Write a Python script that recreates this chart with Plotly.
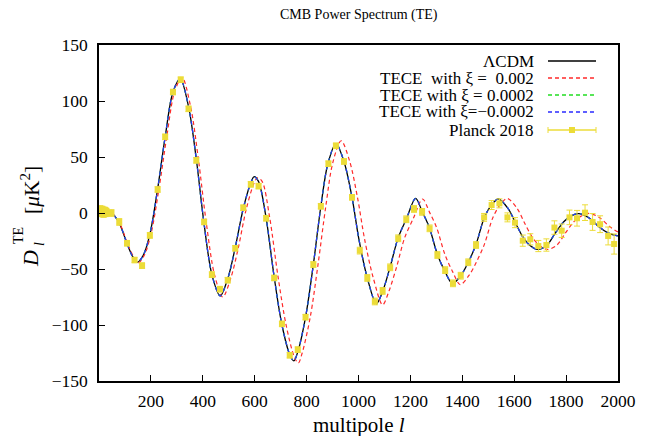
import plotly.graph_objects as go

# ---------------- data ----------------
ell_lcdm = [2, 10, 20, 30, 48, 78, 109, 130, 148, 170, 196, 225, 255, 285, 313, 345, 375, 404,
            435, 467, 497, 524, 556, 585, 598, 615, 643, 675, 705, 736, 751, 766, 796, 826,
            855, 882, 913, 944, 975, 1002, 1034, 1069, 1093, 1122, 1153, 1185, 1220, 1246,
            1273, 1304, 1335, 1362, 1394, 1423, 1453, 1485, 1512, 1539, 1578, 1603, 1635,
            1661, 1690, 1725, 1758, 1790, 1816, 1848, 1886, 1925, 1964, 2000]
dl_lcdm = [2, 1, 0.5, 0.5, 0, -9, -28, -39, -44, -38, -19, 20, 68, 108, 120, 95, 48, -8,
           -55, -74, -58, -32, 4, 27, 32.5, 28, -3, -57, -100, -127, -132, -124, -93, -46,
           6, 44, 62, 46, 14, -24, -58, -81, -70, -48, -22, -5, 13, 1,
           -13, -37, -53, -63, -56, -44, -28, -4, 7, 12.5, 3.5, -8, -22,
           -29, -32.5, -29, -18, -8, -3, -0.5, -4, -12, -18, -20.5]

ell_tece_p002 = [2, 10, 20, 30, 48, 79, 111, 133, 151, 174, 200, 230, 261, 291, 320, 353, 383, 413,
                 445, 477, 508, 536, 568, 598, 611, 629, 657, 690, 721, 752, 768, 783, 814, 844,
                 874, 901, 933, 965, 996, 1024, 1057, 1093, 1117, 1147, 1178, 1211, 1247, 1273,
                 1301, 1333, 1364, 1392, 1425, 1454, 1485, 1518, 1545, 1573, 1613, 1638, 1671,
                 1698, 1727, 1763, 1797, 1829, 1856, 1889, 1928, 1967, 2007]
dl_tece_p002 = [2, 1, 0.5, 0.5, 0, -9, -28, -39, -44.5, -38, -19, 20, 68, 108, 121, 95, 48, -8,
                -55, -75, -58, -32, 4, 27, 31.5, 28, -3, -57, -100, -128, -134, -125, -93, -46,
                6, 45, 64.5, 47, 14, -24, -58, -82, -70, -48, -22, -5, 12.5, 1,
                -13, -37, -53, -64, -56, -44, -28, -4, 7, 13, 3.5, -8, -22,
                -29, -32.5, -29, -18, -8, -3, -0.3, -4, -12, -18]

# xi = +0.0002 and xi = -0.0002 curves are indistinguishable from LCDM in the picture
ell_tece_p0002 = list(ell_lcdm)
dl_tece_p0002 = list(dl_lcdm)
ell_tece_m0002 = list(ell_lcdm)
dl_tece_m0002 = list(dl_lcdm)

planck_ell = [2, 3, 4, 5, 6, 7, 8, 9, 10, 11, 12, 13, 14, 15, 16, 17, 18, 19, 20, 21, 22, 23,
              24, 25, 26, 27, 28, 29,
              48, 78, 108, 137, 166, 196, 226, 255, 285, 315, 345, 375, 405, 435, 466, 496,
              525, 556, 585, 615, 644, 675, 705, 735, 766, 796, 826, 855, 884, 913, 944, 975,
              1005, 1034, 1063, 1093, 1122, 1153, 1184, 1214, 1245, 1274, 1304, 1334, 1364,
              1394, 1423, 1453,
              1484, 1513, 1543, 1574, 1603, 1633, 1662, 1693, 1724, 1755, 1783, 1813, 1842,
              1873, 1902, 1931, 1962, 1985]
planck_dl = [1.5, 3.0, 2.0, 3.5, 1.0, 2.5, 0.5, 3.0, -0.5, 2.0, 1.0, 3.5, -1.0, 2.5, 0.5, 1.5,
             -1.5, 2.0, 0.0, 3.0, -0.5, 1.0, 2.5, -1.0, 1.5, 0.0, 2.0, -0.5,
             0, -8, -27, -42, -47, -20, 21, 68, 108, 119, 93, 47, -8, -55, -68, -60,
             -31.5, 4.7, 25.6, 24, -4.7, -58, -99, -127, -122, -93, -46, 6, 44, 60, 46, 14,
             -33.6, -58, -79, -69.6, -48.5, -22.6, -5.6, 3.6, 1, -13.7, -37.5, -51, -62.8,
             -56, -44, -28.6,
             -3.9, 7.1, 8.6, -3.9, -8.6, -24.7, -23.5, -29.5, -28.6, -13, -15.8, -3.9, -4.7,
             0.3, -8, -10, -20.5, -27.7]
planck_err = [3, 3, 3, 3, 3, 3, 3, 3, 2.5, 2.5, 2.5, 2.5, 2.5, 2.5, 2, 2, 2, 2, 2, 2, 2, 2,
              2, 2, 2, 2, 2, 2,
              3, 3, 2.5, 2.5, 2.5, 2.5, 2.5, 2.5, 2.5, 2.5, 2.5, 2.5, 2.5, 2.5, 2.5, 2.5,
              2.5, 2.5, 2.5, 2.5, 2.5, 2.5, 2.5, 2.5, 2.5, 2.5, 2.5, 2.5, 2.5, 2.5, 2.5, 2.5,
              3, 3, 3, 3, 3, 3, 3, 3, 3, 3, 3, 3, 3, 3, 3, 3,
              3.5, 4, 4, 4, 4.5, 5, 5, 5, 5.5, 6, 6, 6.5, 7, 7, 7.5, 7.5, 8, 9]

xtick_vals = [200, 400, 600, 800, 1000, 1200, 1400, 1600, 1800, 2000]
ytick_vals = [-150, -100, -50, 0, 50, 100, 150]
ytick_text = ["\u2212150", "\u2212100", "\u221250", "0", "50", "100", "150"]

legend_labels = ["ΛCDM",
                 "TECE\u00a0\u00a0with ξ =\u00a0\u00a00.002",
                 "TECE with ξ = 0.0002",
                 "TECE with ξ=\u22120.0002",
                 "Planck 2018"]

# ---------------- styling ----------------
W, H = 648, 436
ML, MR, MT, MB = 99, 30, 45, 55
FONT = "Liberation Serif, Times New Roman, serif"
C_BLACK = "#000000"
C_RED = "#ff2a2a"
C_GREEN = "#22dd22"
C_BLUE = "#2a2aff"
C_YEL = "#ecdc38"


def px(x):
    return (x - ML) / (W - ML - MR)


def py(y):
    return (H - MB - y) / (H - MT - MB)


fig = go.Figure()
fig.add_trace(go.Scatter(x=ell_lcdm, y=dl_lcdm, mode="lines",
                         line=dict(color=C_BLACK, width=1.3, shape="spline", smoothing=0.9),
                         showlegend=False))
fig.add_trace(go.Scatter(x=ell_tece_p002, y=dl_tece_p002, mode="lines",
                         line=dict(color=C_RED, width=1.2, dash="4px,3px", shape="spline",
                                   smoothing=0.9),
                         showlegend=False))
fig.add_trace(go.Scatter(x=ell_tece_p0002, y=dl_tece_p0002, mode="lines",
                         line=dict(color=C_GREEN, width=1.2, dash="4px,4px", shape="spline",
                                   smoothing=0.9),
                         showlegend=False))
fig.add_trace(go.Scatter(x=ell_tece_m0002, y=dl_tece_m0002, mode="lines",
                         line=dict(color=C_BLUE, width=1.2, dash="4px,4px", shape="spline",
                                   smoothing=0.9),
                         showlegend=False))
fig.add_trace(go.Scatter(x=planck_ell, y=planck_dl, mode="markers",
                         marker=dict(symbol="square", size=6, color=C_YEL,
                                     line=dict(width=0)),
                         error_y=dict(type="data", array=planck_err, visible=True,
                                      color=C_YEL, thickness=1, width=3),
                         showlegend=False))

axis_common = dict(showgrid=False, zeroline=False, showline=True, mirror=True,
                   linecolor="black", linewidth=1.5, ticks="inside", ticklen=6,
                   tickwidth=1, tickcolor="black",
                   tickfont=dict(family=FONT, size=17.5, color="black"))

fig.update_xaxes(range=[0, 2000], tickvals=xtick_vals, ticklabelstandoff=3, **axis_common)
fig.update_yaxes(range=[-150, 150], tickvals=ytick_vals, ticktext=ytick_text,
                 ticklabelstandoff=6, **axis_common)

annotations = []
shapes = []

# title
annotations.append(dict(text="CMB Power Spectrum (TE)", x=px(358.5), y=py(15), xref="paper",
                        yref="paper", xanchor="center", yanchor="middle", showarrow=False,
                        font=dict(family=FONT, size=14, color="black")))
# x title
annotations.append(dict(text="multipole <i>l</i>", x=px(358.5), y=py(425), xref="paper",
                        yref="paper", xanchor="center", yanchor="middle", showarrow=False,
                        font=dict(family=FONT, size=21, color="black")))
# y title pieces (rotated)
annotations.append(dict(text="<i>D</i>", x=px(30), y=py(259), xref="paper", yref="paper",
                        xanchor="center", yanchor="middle", showarrow=False, textangle=-90,
                        font=dict(family=FONT, size=22, color="black")))
annotations.append(dict(text="<i>l</i>", x=px(39), y=py(244), xref="paper", yref="paper",
                        xanchor="center", yanchor="middle", showarrow=False, textangle=-90,
                        font=dict(family=FONT, size=14, color="black")))
annotations.append(dict(text="TE", x=px(18), y=py(236), xref="paper", yref="paper",
                        xanchor="center", yanchor="middle", showarrow=False, textangle=-90,
                        font=dict(family=FONT, size=14, color="black")))
annotations.append(dict(text="[<i>μ</i>K<sup>2</sup>]", x=px(30), y=py(190), xref="paper",
                        yref="paper", xanchor="center", yanchor="middle", showarrow=False,
                        textangle=-90, font=dict(family=FONT, size=21.5, color="black")))

# custom gnuplot-style legend (text right, sample to the right)
rows_y = [61, 78, 95, 112, 130]
styles = [(C_BLACK, "solid"), (C_RED, "4px,3px"), (C_GREEN, "4px,3px"),
          (C_BLUE, "4px,3px"), (C_YEL, "solid")]
for lab, yy, (col, dash) in zip(legend_labels, rows_y, styles):
    annotations.append(dict(text=lab, x=px(536), y=py(yy), xref="paper", yref="paper",
                            xanchor="right", yanchor="middle", showarrow=False,
                            font=dict(family=FONT, size=17, color="black")))
    shapes.append(dict(type="line", xref="paper", yref="paper", x0=px(548), x1=px(596),
                       y0=py(yy), y1=py(yy), line=dict(color=col, width=1.3, dash=dash)))
# Planck sample caps and marker
yy = rows_y[-1]
for xc in (548, 596):
    shapes.append(dict(type="line", xref="paper", yref="paper", x0=px(xc), x1=px(xc),
                       y0=py(yy - 3), y1=py(yy + 3), line=dict(color=C_YEL, width=1)))
shapes.append(dict(type="rect", xref="paper", yref="paper", x0=px(569), x1=px(575),
                   y0=py(yy + 3), y1=py(yy - 3), fillcolor=C_YEL, line=dict(width=0)))

fig.update_layout(width=W, height=H, margin=dict(l=ML, r=MR, t=MT, b=MB),
                  paper_bgcolor="white", plot_bgcolor="white",
                  annotations=annotations, shapes=shapes, showlegend=False,
                  font=dict(family=FONT, color="black"))

fig.write_html("out.html")
